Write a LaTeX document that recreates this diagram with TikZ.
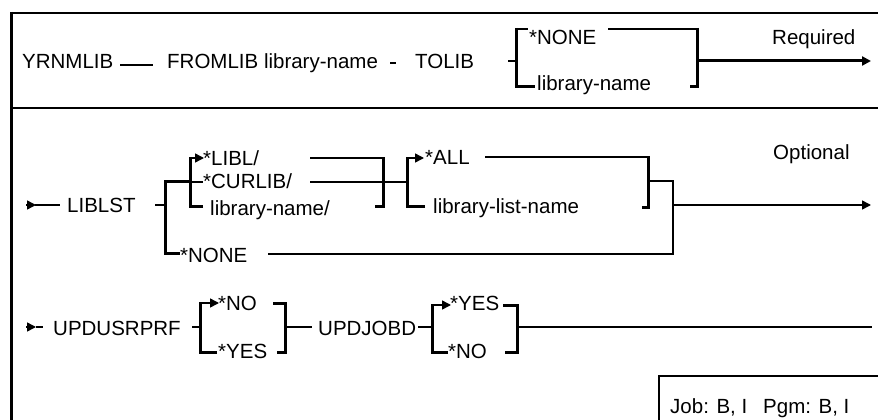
\documentclass[tikz,border=0pt]{standalone}
\usepackage{fontspec}
\setmainfont{Liberation Sans}
\usetikzlibrary{arrows.meta}

\begin{document}
\begin{tikzpicture}[
    x=1pt, y=-1pt,
    lbl/.style={anchor=base west, inner sep=0pt, font=\fontsize{20.5}{24}\selectfont},
    rail/.style={line width=1.5pt},
    railthick/.style={line width=2.4pt},
    bar/.style={line width=3pt},
    frameline/.style={line width=1.8pt},
    tip/.style={-{Triangle[length=9pt, width=9pt]}}
]
    \useasboundingbox (0,0) rectangle (878,420);

    % Frame
    \draw[frameline] (878,13) -- (11,13);
    \draw[bar] (11,12) -- (11,420);
    \draw[frameline] (11,108) -- (878,108);

    % Required part
    \node[lbl] (cmd)     at (22,68)  {YRNMLIB};
    \node[lbl] (fromlib) at (167,68) {FROMLIB library-name};
    \node[lbl] (tolib)   at (415,68) {TOLIB};
    \node[lbl] (tnone)   at (529,45) {*NONE};
    \node[lbl] (tlib)    at (537,90) {library-name};
    \node[lbl] (req)     at (772,45) {Required};

    \draw[rail] (120,65) -- (153,65);
    \draw[railthick] (390,63) -- (396,63);
    \draw[railthick] (508,61) -- (516,61);
    \draw[rail] (516,29) -- (528,29);
    \draw[bar] (516,28) -- (516,86) -- (535,86);
    \draw[rail] (608,29) -- (697,29);
    \draw[bar] (697,28) -- (697,86) -- (690,86);
    \draw[bar, tip] (697,61) -- (871,61);

    % Optional part
    \node[lbl] (liblst)  at (67,212)  {LIBLST};
    \node[lbl] (libl)    at (203,165) {*LIBL/};
    \node[lbl] (curlib)  at (203,188) {*CURLIB/};
    \node[lbl] (libname) at (210,215) {library-name/};
    \node[lbl] (lnone)   at (180,262) {*NONE};
    \node[lbl] (all)     at (425,164) {*ALL};
    \node[lbl] (listnm)  at (433,213) {library-list-name};
    \node[lbl] (opt)     at (773,159) {Optional};

    \draw[rail, tip] (26,205) -- (36,205);
    \draw[rail] (35,205) -- (60,205);
    \draw[rail] (155,205) -- (165,205);
    \draw[bar] (190,181) -| (165,253) -- (180,253);
    \draw[bar] (203,206) -| (190,158);
    \draw[rail, tip] (189,158) -- (204,158);
    \draw[rail] (190,182) -- (203,182);
    \draw[rail] (310,158) -- (383,158);
    \draw[railthick] (310,182) -- (407,182);
    \draw[bar] (383,157) -- (383,206) -- (375,206);
    \draw[bar] (425,206) -| (407,158);
    \draw[rail, tip] (406,158) -- (424,158);
    \draw[rail] (485,157) -- (648,157);
    \draw[bar] (648,156) -- (648,207) -- (642,207);
    \draw[rail] (648,181) -| (673,254) -- (268,254);
    \draw[rail, tip] (673,205) -- (871,205);

    % Update options
    \node[lbl] (usrprf) at (53,335)  {UPDUSRPRF};
    \node[lbl] (uno)    at (218,310) {*NO};
    \node[lbl] (uyes)   at (218,358) {*YES};
    \node[lbl] (jobd)   at (318,335) {UPDJOBD};
    \node[lbl] (jyes)   at (450,310) {*YES};
    \node[lbl] (jno)    at (448,358) {*NO};

    \draw[rail, tip] (26,327) -- (36,327);
    \draw[rail] (36,327) -- (43,327);
    \draw[rail] (192,327) -- (200,327);
    \draw[bar] (217,352) -| (200,303);
    \draw[rail, tip] (199,303) -- (219,303);
    \draw[bar] (273,303) -| (285,352) -- (277,352);
    \draw[rail] (285,327) -- (312,327);
    \draw[rail] (418,327) -- (432,327);
    \draw[bar] (448,352) -| (432,305);
    \draw[rail, tip] (431,305) -- (451,305);
    \draw[bar] (503,305) -| (517,352) -- (505,352);
    \draw[rail] (517,327) -- (872,327);

    % Legend
    \draw[frameline] (659,420) |- (878,376);
    \node[lbl] (job) at (670,413) {Job: B, I};
    \node[lbl] (pgm) at (763,413) {Pgm: B, I};
\end{tikzpicture}
\end{document}
